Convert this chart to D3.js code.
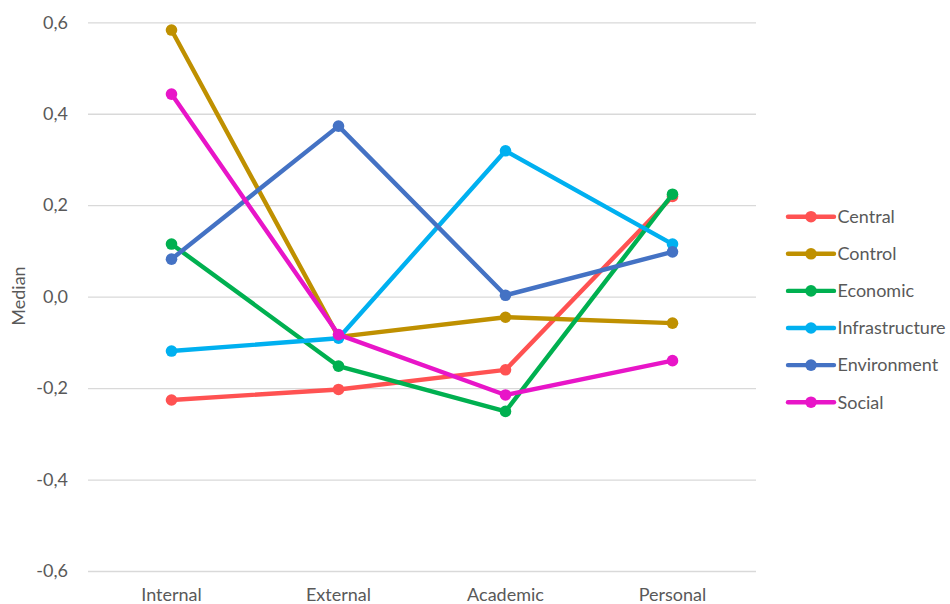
<!DOCTYPE html>
<html>
<head>
<meta charset="utf-8">
<script src="https://cdn.jsdelivr.net/npm/d3@7"></script>
<style>
  body { margin: 0; background: #fff; }
  text { font-family: Lato, "Open Sans", sans-serif; fill: #595959; }
</style>
</head>
<body>
<div id="chart"></div>
<script>
var width = 950;
var height = 604;

// categories on the x axis
var categories = ["Internal", "External", "Academic", "Personal"];
// tick values on the y axis
var yTicks = [-0.6, -0.4, -0.2, 0, 0.2, 0.4, 0.6];

// series values
var seriesNames = ["Central", "Control", "Economic", "Infrastructure", "Environment", "Social"];
var central        = [-0.226, -0.203, -0.160, 0.219];
var control        = [0.583, -0.088, -0.045, -0.058];
var economic       = [0.115, -0.152, -0.251, 0.224];
var infrastructure = [-0.119, -0.091, 0.319, 0.115];
var environment    = [0.082, 0.373, 0.003, 0.098];
var social         = [0.443, -0.083, -0.215, -0.140];
var colors = ["#FF5252", "#BF9000", "#00B050", "#00B0F0", "#4472C4", "#E815C8"];

var series = [central, control, economic, infrastructure, environment, social].map(function(vals, i) {
    return { name: seriesNames[i], color: colors[i], values: vals };
});

var svg = d3.select("#chart")
    .append("svg")
    .attr("width", width)
    .attr("height", height);

var xScale = d3.scaleBand().domain(categories).range([88, 756]);
var yScale = d3.scaleLinear().domain([-0.6, 0.6]).range([571, 22.3]);

function cx(i) { return xScale(categories[i]) + xScale.bandwidth() / 2; }

var fmt = function(d) { return d3.format(".1f")(d).replace(".", ",").replace("−", "-"); };

// gridlines + y labels
var yAxis = d3.axisLeft(yScale)
    .tickValues(yTicks)
    .tickSize(-(756 - 88))
    .tickPadding(20)
    .tickFormat(fmt);

var yG = svg.append("g")
    .attr("transform", "translate(88,0)")
    .call(yAxis);
yG.select(".domain").remove();
yG.selectAll(".tick line").attr("stroke", "#d9d9d9").attr("stroke-width", 1.3);
yG.selectAll(".tick text").style("font-size", "18px").attr("fill", "#595959");

// x labels
var xAxis = d3.axisBottom(xScale).tickSize(0).tickPadding(0);
var xG = svg.append("g")
    .attr("transform", "translate(0,588)")
    .call(xAxis);
xG.select(".domain").remove();
xG.selectAll(".tick text").style("font-size", "18px").attr("fill", "#595959");

// y title
svg.append("text")
    .attr("transform", "translate(25,296) rotate(-90)")
    .style("text-anchor", "middle")
    .style("font-size", "18px")
    .text("Median");

// lines
var line = d3.line()
    .x(function(d, i) { return cx(i); })
    .y(function(d) { return yScale(d); });

var sG = svg.selectAll(".series")
    .data(series)
    .enter()
    .append("g")
    .attr("class", "series");

sG.append("path")
    .attr("d", function(d) { return line(d.values); })
    .attr("fill", "none")
    .attr("stroke", function(d) { return d.color; })
    .attr("stroke-width", 4.4)
    .attr("stroke-linejoin", "round");

sG.selectAll("circle")
    .data(function(d) { return d.values.map(function(v) { return { v: v, color: d.color }; }); })
    .enter()
    .append("circle")
    .attr("cx", function(d, i) { return cx(i); })
    .attr("cy", function(d) { return yScale(d.v); })
    .attr("r", 5.8)
    .attr("fill", function(d) { return d.color; });

// legend
var legend = svg.append("g").attr("transform", "translate(788,216.7)");
var lg = legend.selectAll("g")
    .data(series)
    .enter()
    .append("g")
    .attr("transform", function(d, i) { return "translate(0," + (i * 37.1) + ")"; });

lg.append("line")
    .attr("x1", 0).attr("x2", 46)
    .attr("y1", 0).attr("y2", 0)
    .attr("stroke", function(d) { return d.color; })
    .attr("stroke-width", 4.4)
    .attr("stroke-linecap", "round");
lg.append("circle")
    .attr("cx", 23).attr("cy", 0).attr("r", 5.8)
    .attr("fill", function(d) { return d.color; });
lg.append("text")
    .attr("x", 49.5)
    .attr("y", 0)
    .attr("dy", "0.35em")
    .style("font-size", "18px")
    .text(function(d) { return d.name; });
</script>
</body>
</html>
